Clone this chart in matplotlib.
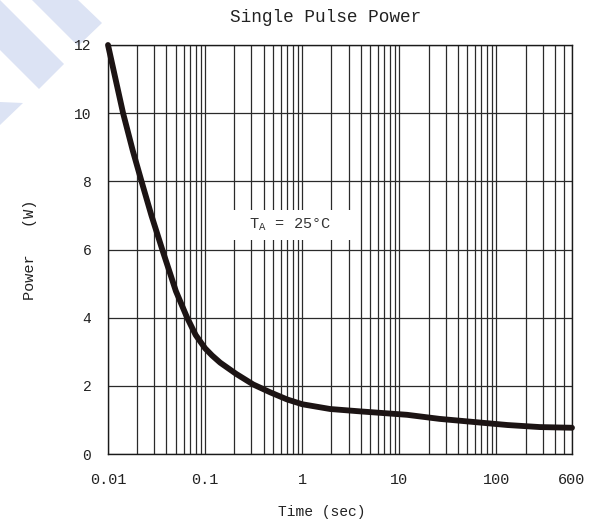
import matplotlib
matplotlib.use("Agg")
import matplotlib.pyplot as plt
from matplotlib.patches import Polygon
from matplotlib.ticker import LogLocator, NullFormatter

plt.rcParams['font.family'] = ['Liberation Mono', 'DejaVu Sans']
plt.rcParams['mathtext.fontset'] = 'custom'
plt.rcParams['mathtext.rm'] = 'Liberation Mono'

# single pulse power curve
time_s = [0.01, 0.0143, 0.018, 0.0224, 0.028, 0.036, 0.05, 0.0653, 0.08, 0.1,
          0.118, 0.143, 0.209, 0.313, 0.468, 0.7, 1, 1.94, 3.97, 12, 26, 58,
          130, 280, 600]
power_w = [12, 10, 8.9, 7.95, 7.0, 6.02, 4.78, 4.0, 3.49, 3.1,
           2.89, 2.68, 2.35, 2.04, 1.81, 1.6, 1.46, 1.32, 1.25, 1.15, 1.03, 0.94,
           0.85, 0.79, 0.77]

x_ticks = [0.01, 0.1, 1, 10, 100, 600]
x_tick_labels = ["0.01", "0.1", "1", "10", "100", "600"]
y_ticks = [0, 2, 4, 6, 8, 10, 12]

W, H = 602, 525
fig = plt.figure(figsize=(W / 100, H / 100), dpi=100)

# light blue watermark stripes in the top left corner (pixel coords)
stripes = [
    [(32, 0), (78, 0), (102, 23), (78, 46)],
    [(0, 0), (64, 64), (39, 89), (0, 50)],
    [(0, 102), (23, 103), (0, 125)],
]
for pts in stripes:
    fig.patches.append(Polygon([(x / W, 1 - y / H) for x, y in pts], closed=True,
                               transform=fig.transFigure, facecolor="#dce3f4",
                               edgecolor="none", zorder=-1))

ax = fig.add_axes([108 / W, 1 - 454 / H, (572 - 108) / W, (454 - 45) / H])
ax.patch.set_alpha(0)

ax.plot(time_s, power_w, color="#1c1414", lw=4.2, solid_capstyle="round",
        solid_joinstyle="round", clip_on=False, zorder=5)

ax.set_xscale("log")
ax.set_xlim(0.01, 600)
ax.set_ylim(0, 12)
ax.set_xticks(x_ticks)
ax.set_xticklabels(x_tick_labels)
ax.xaxis.set_minor_locator(LogLocator(base=10, subs=range(2, 10), numticks=20))
ax.xaxis.set_minor_formatter(NullFormatter())
ax.set_yticks(y_ticks)

ax.grid(True, which="both", axis="x", color="#2a2a2a", lw=0.9)
ax.grid(True, which="major", axis="y", color="#2a2a2a", lw=0.9)
ax.tick_params(axis="both", which="both", length=0, colors="#222222")
ax.tick_params(axis="x", labelsize=11, pad=14)
ax.tick_params(axis="y", labelsize=10.5, pad=12)
for s in ax.spines.values():
    s.set_color("#1a1a1a")
    s.set_linewidth(1.0)

ax.text(0.68, 6.72, "   T$_{\\mathrm{A}}$ = 25°C   ", ha="center", va="center",
        fontsize=11, color="#333333", zorder=4,
        bbox=dict(boxstyle="square,pad=0.45", facecolor="white", edgecolor="none"))

fig.text(326 / W, 1 - 18 / H, "Single Pulse Power", ha="center", va="center",
         fontsize=12.8, color="#222222")
fig.text(322 / W, 1 - 512 / H, "Time (sec)", ha="center", va="center",
         fontsize=10.5, color="#222222")
fig.text(30 / W, 1 - 250 / H, "Power   (W)", ha="center", va="center",
         rotation=90, fontsize=11, color="#222222")

plt.savefig("out.png", dpi=100)
